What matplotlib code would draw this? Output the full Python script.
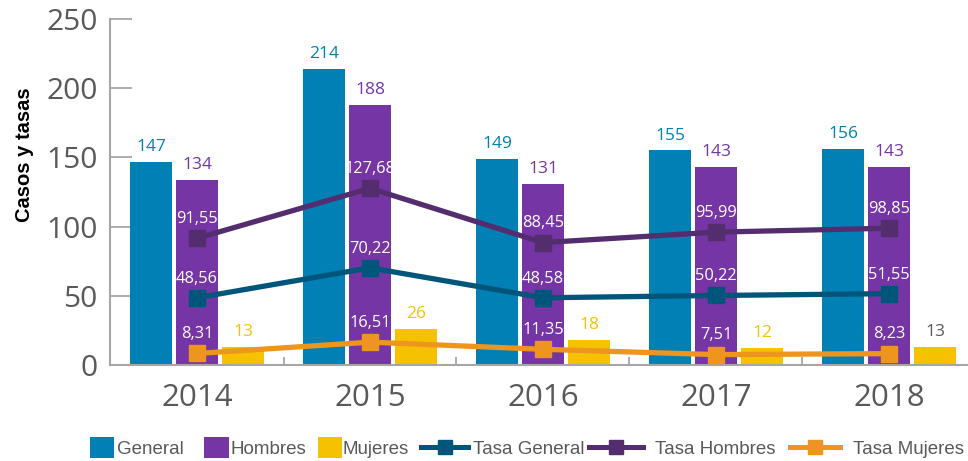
import matplotlib
matplotlib.use("Agg")
import matplotlib.pyplot as plt
import numpy as np
from matplotlib.patches import Rectangle, Patch
from matplotlib.lines import Line2D
from matplotlib.legend_handler import HandlerPatch

years = ["2014", "2015", "2016", "2017", "2018"]
general = [147, 214, 149, 155, 156]
hombres = [134, 188, 131, 143, 143]
mujeres = [13, 26, 18, 12, 13]
tasa_general = [48.56, 70.22, 48.58, 50.22, 51.55]
tasa_hombres = [91.55, 127.68, 88.45, 95.99, 98.85]
tasa_mujeres = [8.31, 16.51, 11.35, 7.51, 8.23]
yticks = [0, 50, 100, 150, 200, 250]
legend_labels = ["General", "Hombres", "Mujeres", "Tasa General", "Tasa Hombres", "Tasa Mujeres"]

C_GEN = "#0080B4"
C_HOM = "#7535A5"
C_MUJ = "#F6C200"
C_TGEN = "#00567A"
C_THOM = "#532D6E"
C_TMUJ = "#EE951E"
GRAY = "#595959"
SPINE = "#A6A6A6"

NUM_FONT = ["Open Sans", "DejaVu Sans"]
W, H = 968, 461

fig = plt.figure(figsize=(W / 100, H / 100), dpi=100)
ax = fig.add_axes([110 / W, (H - 365) / H, 1 - 110 / W, (365 - 19) / H])

x = np.arange(len(years))
w = 0.243
off = 0.266

ax.bar(x - off, general, w, color=C_GEN, zorder=2)
ax.bar(x, hombres, w, color=C_HOM, zorder=2)
ax.bar(x + off, mujeres, w, color=C_MUJ, zorder=2)

fs_lab = 12.5
for xi, v in zip(x - off, general):
    ax.annotate(str(v), (xi, v), xytext=(0, 5), textcoords="offset points",
                ha="center", va="bottom", color=C_GEN, fontsize=fs_lab, family=NUM_FONT)
for xi, v in zip(x, hombres):
    ax.annotate(str(v), (xi, v), xytext=(0, 5), textcoords="offset points",
                ha="center", va="bottom", color=C_HOM, fontsize=fs_lab, family=NUM_FONT)
for i, (xi, v) in enumerate(zip(x + off, mujeres)):
    col = GRAY if i == len(mujeres) - 1 else C_MUJ
    ax.annotate(str(v), (xi, v), xytext=(0, 5), textcoords="offset points",
                ha="center", va="bottom", color=col, fontsize=fs_lab, family=NUM_FONT)

lw = 3.8
ms = 11.5
ax.plot(x, tasa_general, color=C_TGEN, lw=lw, marker="s", ms=ms, zorder=3)
ax.plot(x, tasa_hombres, color=C_THOM, lw=lw, marker="s", ms=ms, zorder=3)
ax.plot(x, tasa_mujeres, color=C_TMUJ, lw=lw, marker="s", ms=ms, zorder=3)


def fmt(v):
    return f"{v:.2f}".replace(".", ",")


for series in (tasa_general, tasa_hombres, tasa_mujeres):
    for xi, v in zip(x, series):
        ax.annotate(fmt(v), (xi, v), xytext=(0, 8), textcoords="offset points",
                    ha="center", va="bottom", color="white", fontsize=11.8,
                    family=NUM_FONT, zorder=4)

ax.set_xlim(-0.503, 4.457)
ax.set_ylim(0, 250)
ax.set_yticks(yticks)
ax.set_yticklabels([str(t) for t in yticks], family=NUM_FONT, fontsize=21.5, color=GRAY)
ax.tick_params(axis="y", direction="in", length=16, width=1.3, color=SPINE, pad=9)
ax.set_xticks(x)
ax.set_xticklabels(years, family=NUM_FONT, fontsize=22.5, color=GRAY)
ax.tick_params(axis="x", length=0, pad=13)
ax.set_xticks(x[:-1] + 0.5, minor=True)
ax.tick_params(axis="x", which="minor", direction="in", length=6, width=1.3, color=SPINE)

for s in ("top", "right"):
    ax.spines[s].set_visible(False)
for s in ("left", "bottom"):
    ax.spines[s].set_color(SPINE)
    ax.spines[s].set_linewidth(1.5)

fig.text(25 / W, 1 - 155 / H, "Casos y tasas", rotation=90, ha="center", va="center",
         fontsize=14.5, fontweight="bold", color="black", family="Liberation Sans")


class BoxPatch(HandlerPatch):
    def create_artists(self, legend, orig_handle, xdescent, ydescent, width, height, fontsize, trans):
        h = height * 1.6
        r = Rectangle((-xdescent, -ydescent - (h - height) / 2), width, h,
                      facecolor=orig_handle.get_facecolor(), edgecolor="none", transform=trans)
        return [r]


leg_fs = 13.5
fs_px = leg_fs * 100 / 72
handles = [Patch(color=C_GEN), Patch(color=C_HOM), Patch(color=C_MUJ),
           Line2D([], [], color=C_TGEN, lw=3.6, marker="s", ms=10),
           Line2D([], [], color=C_THOM, lw=3.6, marker="s", ms=10),
           Line2D([], [], color=C_TMUJ, lw=3.6, marker="s", ms=10)]
# (left px, handle width px, gap px) for each legend entry
leg_layout = [(90, 24, 3), (204, 25, 2), (318, 24, 1), (421, 47, 5), (589, 54, 12), (790, 50, 13)]
for hnd, lab, (lx, hw, gap) in zip(handles, legend_labels, leg_layout):
    lg = fig.legend([hnd], [lab], loc="center left", bbox_to_anchor=(lx / W, 1 - 449 / H),
                    frameon=False, borderpad=0, borderaxespad=0,
                    handlelength=hw / fs_px, handletextpad=gap / fs_px,
                    prop={"family": "Liberation Sans", "size": leg_fs},
                    handler_map={Patch: BoxPatch()})
    for t in lg.get_texts():
        t.set_color(GRAY)

fig.savefig("out.png", dpi=100)
